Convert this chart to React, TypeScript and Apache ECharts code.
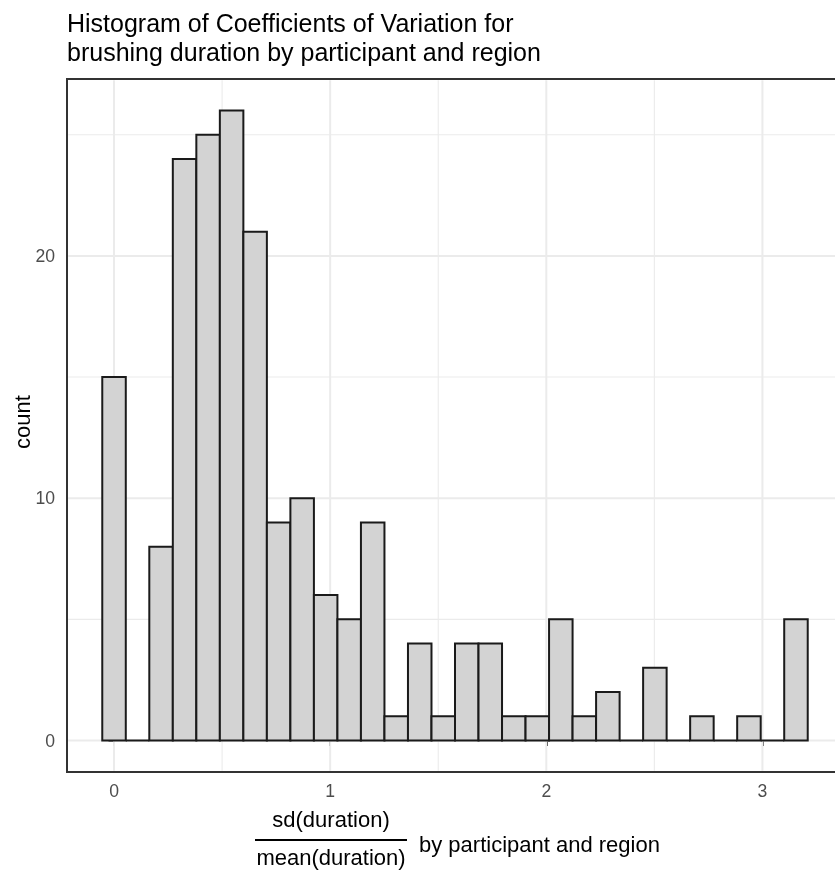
import React, { useEffect, useRef } from 'react';
import * as echarts from 'echarts';

// ---- data ----
const binWidth = 0.1088; // histogram bin width (30 bins, centred on multiples of the width)
const counts = [15, 0, 8, 24, 25, 26, 21, 9, 10, 6, 5, 9, 1, 4, 1, 4, 4, 1, 1, 5, 1, 2, 0, 3, 0, 1, 0, 1, 0, 5];
const xTicks = [0, 1, 2, 3];
const xMinorBreaks = [0.5, 1.5, 2.5];
const yTicks = [0, 10, 20];
const yMinorBreaks = [5, 15, 25];
const titleText = 'Histogram of Coefficients of Variation for\nbrushing duration by participant and region';
const yTitle = 'count';
const xTitleNum = 'sd(duration)';
const xTitleDen = 'mean(duration)';
const xTitleRest = 'by participant and region';
const xRange = [-0.2176, 3.3728];
const yRange = [-1.3, 27.3];

const FONT = '"Liberation Sans", Arial, Helvetica, sans-serif';

export default function App() {
  const ref = useRef<HTMLDivElement>(null);
  useEffect(() => {
    document.body.style.margin = '0';
    const chart = echarts.init(ref.current!, null, { renderer: 'svg' });
    const bars = counts.map((c, i) => [i * binWidth, c]);
    const grids = [
      ...xTicks.map((v) => [v, 0, 0]),
      ...xMinorBreaks.map((v) => [v, 0, 1]),
      ...yTicks.map((v) => [0, v, 2]),
      ...yMinorBreaks.map((v) => [0, v, 3]),
    ];
    const option: any = {
      animation: false,
      title: {
        text: titleText,
        left: 67,
        top: 8.5,
        padding: 0,
        textStyle: { fontSize: 25, fontWeight: 'normal', color: '#000', fontFamily: FONT, lineHeight: 29 },
      },
      grid: {
        left: 67,
        top: 79,
        width: 776,
        height: 693,
        show: true,
        borderColor: '#333333',
        borderWidth: 2,
        backgroundColor: 'transparent',
        containLabel: false,
        outerBoundsMode: 'none',
      },
      xAxis: {
        type: 'value',
        min: xRange[0],
        max: xRange[1],
        axisLine: { show: false },
        splitLine: { show: false },
        axisTick: { show: true, length: 5.5, lineStyle: { color: '#333333', width: 2 }, customValues: xTicks },
        axisLabel: { customValues: xTicks, fontSize: 17.6, color: '#4D4D4D', fontFamily: FONT, margin: 10 },
      },
      yAxis: {
        type: 'value',
        min: yRange[0],
        max: yRange[1],
        axisLine: { show: false },
        splitLine: { show: false },
        axisTick: { show: true, length: 5.5, lineStyle: { color: '#333333', width: 2 }, customValues: yTicks },
        axisLabel: { customValues: yTicks, fontSize: 17.6, color: '#4D4D4D', fontFamily: FONT, margin: 12 },
      },
      series: [
        {
          type: 'custom',
          name: 'grid',
          z: 1,
          silent: true,
          data: grids,
          renderItem: (params: any, api: any) => {
            const cs = params.coordSys;
            const kind = api.value(2);
            const style = { stroke: '#EBEBEB', lineWidth: kind === 0 || kind === 2 ? 2 : 1.1 };
            if (kind < 2) {
              const x = api.coord([api.value(0), 0])[0];
              return { type: 'line', shape: { x1: x, y1: cs.y + 1.2, x2: x, y2: cs.y + cs.height - 1.2 }, style };
            }
            const y = api.coord([0, api.value(1)])[1];
            return { type: 'line', shape: { x1: cs.x + 1.2, y1: y, x2: cs.x + cs.width, y2: y }, style };
          },
        },
        {
          type: 'custom',
          name: 'count',
          z: 2,
          data: bars,
          renderItem: (params: any, api: any) => {
            const xc = api.value(0);
            const c = api.value(1);
            const p0 = api.coord([xc - binWidth / 2, 0]);
            const p1 = api.coord([xc + binWidth / 2, c]);
            return {
              type: 'polygon',
              shape: { points: [[p0[0], p0[1]], [p0[0], p1[1]], [p1[0], p1[1]], [p1[0], p0[1]]] },
              style: { fill: '#D3D3D3', stroke: '#1A1A1A', lineWidth: 2, lineJoin: 'miter' },
            };
          },
        },
      ],
      graphic: [
        {
          type: 'text',
          x: 22,
          y: 422,
          rotation: Math.PI / 2,
          style: { text: yTitle, fontSize: 22, fontFamily: FONT, fill: '#000', align: 'center', verticalAlign: 'middle' },
        },
        {
          type: 'text',
          x: 331,
          y: 819.7,
          style: { text: xTitleNum, fontSize: 22, fontFamily: FONT, fill: '#000', align: 'center', verticalAlign: 'middle' },
        },
        {
          type: 'line',
          shape: { x1: 255, y1: 840, x2: 407, y2: 840 },
          style: { stroke: '#000', lineWidth: 1.8 },
        },
        {
          type: 'text',
          x: 331,
          y: 857,
          style: { text: xTitleDen, fontSize: 22, fontFamily: FONT, fill: '#000', align: 'center', verticalAlign: 'middle' },
        },
        {
          type: 'text',
          x: 419,
          y: 844.1,
          style: { text: xTitleRest, fontSize: 22, fontFamily: FONT, fill: '#000', align: 'left', verticalAlign: 'middle' },
        },
      ],
    };
    chart.setOption(option);
    return () => chart.dispose();
  }, []);
  return <div ref={ref} style={{ position: 'fixed', left: 0, top: 0, width: 835, height: 876 }} />;
}
